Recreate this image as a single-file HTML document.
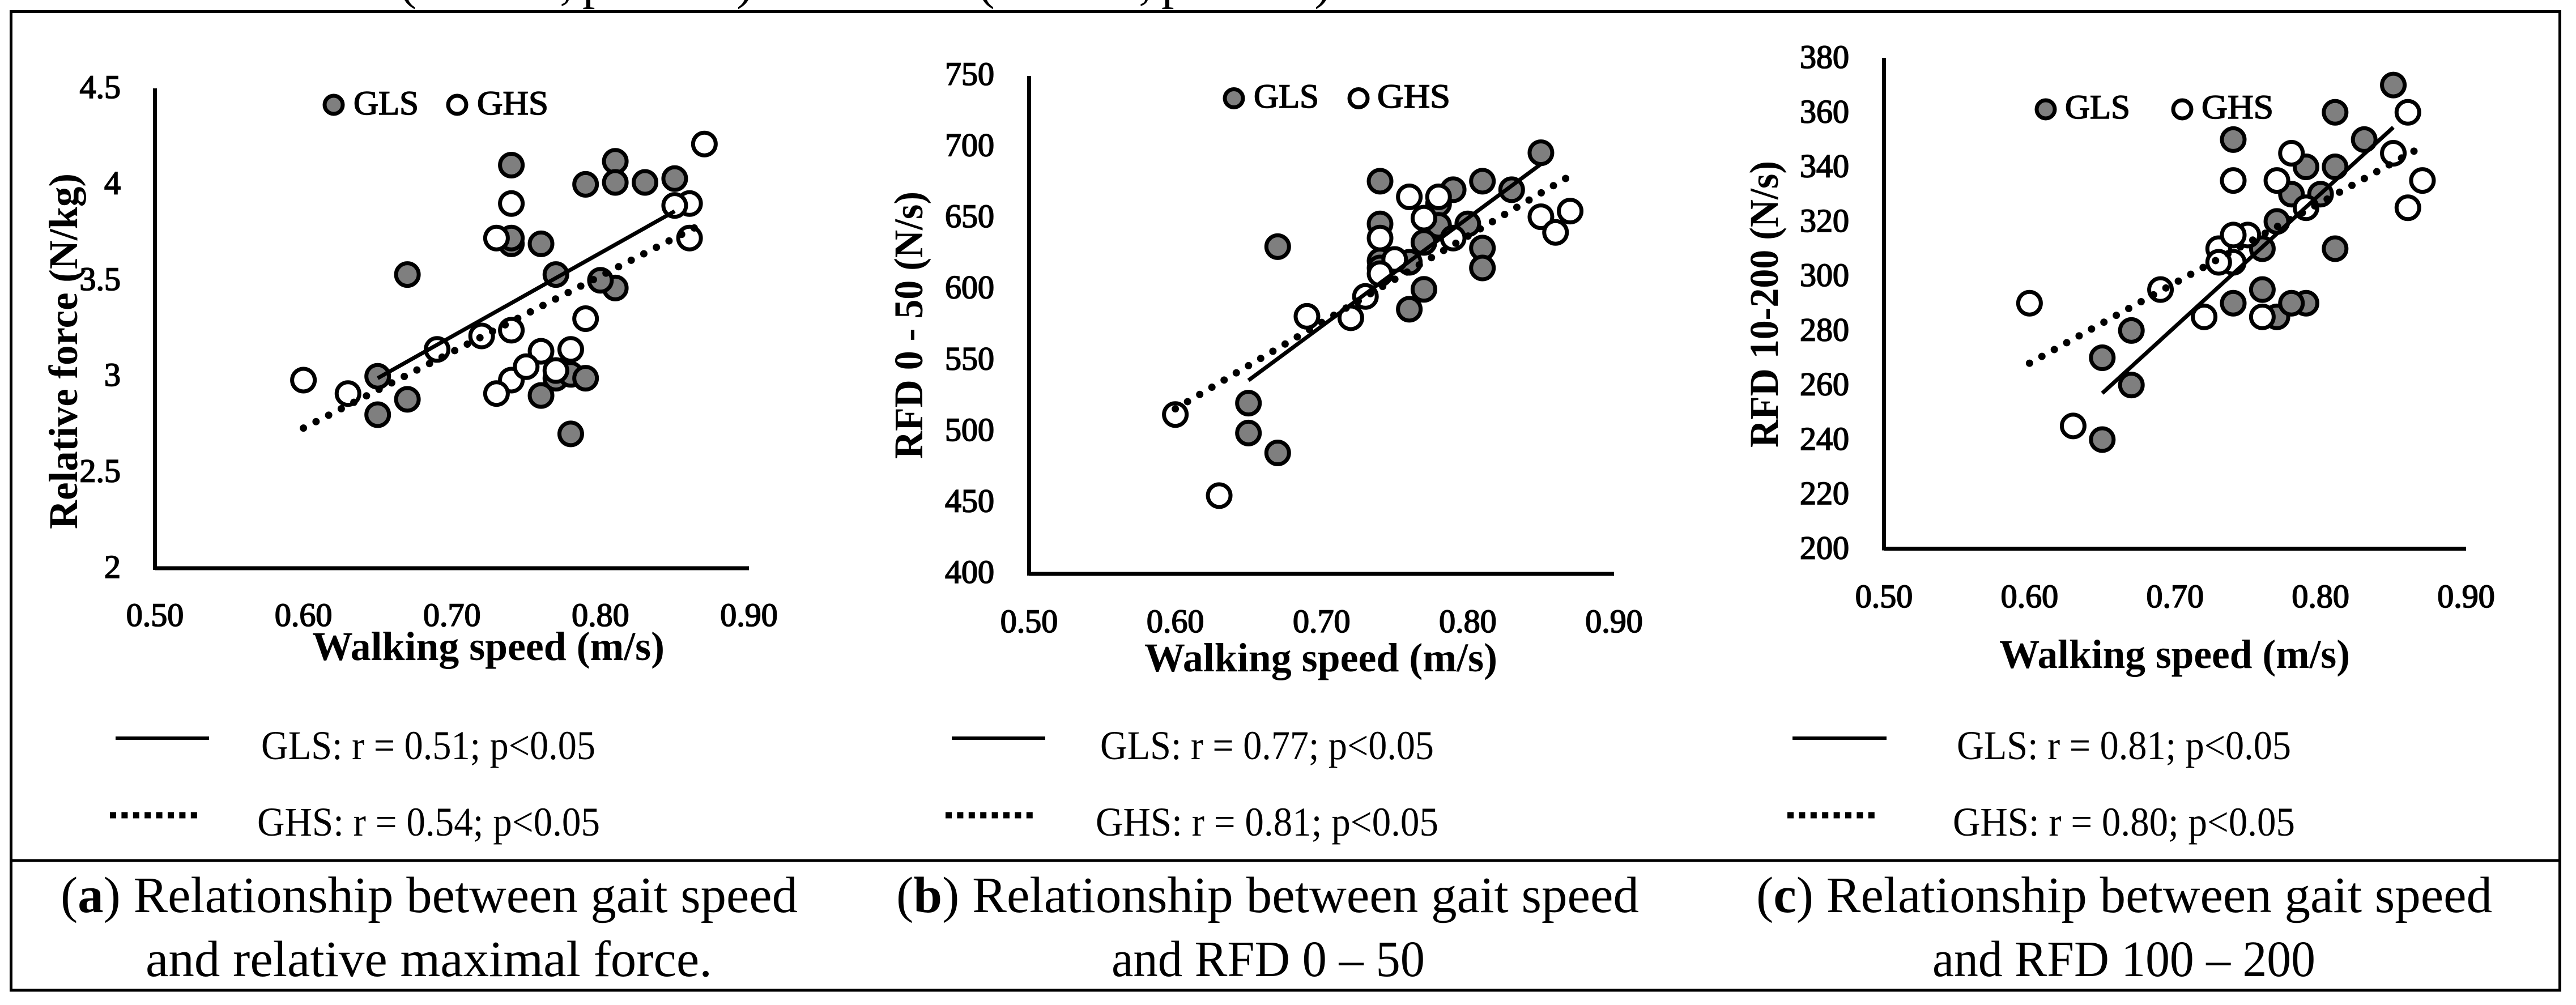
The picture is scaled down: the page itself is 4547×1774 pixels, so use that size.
<!DOCTYPE html>
<html lang="en">
<head>
<meta charset="utf-8">
<title>Gait speed relationships</title>
<style>
html,body{margin:0;padding:0;background:#fff}
svg{display:block}
text{font-family:"Liberation Serif","DejaVu Serif",serif;fill:#000}
.tick{font-size:58px;stroke:#000;stroke-width:1.8px}
.axt{font-size:72px;font-weight:bold}
.leg{font-size:60px;stroke:#000;stroke-width:1.6px}
.rt{font-size:72px}
.cap{font-size:90px}
</style>
</head>
<body>
<svg id="figure" xmlns="http://www.w3.org/2000/svg" width="4547" height="1774" viewBox="0 0 4547 1774">
  <rect width="4547" height="1774" fill="#fff"/>

  <g>
    <text class="cap" x="705" y="-3">(</text>
    <text class="cap" x="988" y="-3">,</text>
    <text class="cap" x="1028" y="-3">p</text>
    <text class="cap" x="1300" y="-3">)</text>
    <text class="cap" x="1726" y="-3">(</text>
    <text class="cap" x="2010" y="-3">,</text>
    <text class="cap" x="2050" y="-3">p</text>
    <text class="cap" x="2320" y="-3">)</text>
  </g>

  <g fill="none" stroke="#000" stroke-width="5">
    <rect x="19.5" y="20.5" width="4499" height="1727.5"/>
    <line x1="19" y1="1519" x2="4519" y2="1519"/>
  </g>

  <g id="panel-a">
    <text class="axt" transform="translate(136,934) rotate(-90)" textLength="628" lengthAdjust="spacingAndGlyphs">Relative force (N/kg)</text>
    <text class="axt" x="551" y="1165" textLength="622" lengthAdjust="spacingAndGlyphs">Walking speed (m/s)</text>
    <text class="leg" x="624" y="202" textLength="115" lengthAdjust="spacingAndGlyphs">GLS</text>
    <text class="leg" x="842" y="202" textLength="126" lengthAdjust="spacingAndGlyphs">GHS</text>
    <line x1="204" x2="369" y1="1303" y2="1303" stroke="#000" stroke-width="6"/>
    <line x1="194" x2="352" y1="1439" y2="1439" stroke="#000" stroke-width="11" stroke-dasharray="11 9.4"/>
    <text class="rt" x="461" y="1340" textLength="590" lengthAdjust="spacingAndGlyphs">GLS: r = 0.51; p&lt;0.05</text>
    <text class="rt" x="454" y="1475" textLength="605" lengthAdjust="spacingAndGlyphs">GHS: r = 0.54; p&lt;0.05</text>
    <text class="cap" x="107" y="1610" textLength="1301" lengthAdjust="spacingAndGlyphs">(<tspan font-weight="bold">a</tspan>) Relationship between gait speed</text>
    <text class="cap" x="257" y="1723" textLength="1000" lengthAdjust="spacingAndGlyphs">and relative maximal force.</text>
  </g>

  <g id="panel-b">
    <text class="axt" transform="translate(1628,810) rotate(-90)" textLength="472" lengthAdjust="spacingAndGlyphs">RFD 0 - 50 (N/s)</text>
    <text class="axt" x="2020" y="1185" textLength="623" lengthAdjust="spacingAndGlyphs">Walking speed (m/s)</text>
    <text class="leg" x="2213" y="190" textLength="115" lengthAdjust="spacingAndGlyphs">GLS</text>
    <text class="leg" x="2431" y="190" textLength="129" lengthAdjust="spacingAndGlyphs">GHS</text>
    <line x1="1680" x2="1845" y1="1303" y2="1303" stroke="#000" stroke-width="6"/>
    <line x1="1669" x2="1828" y1="1439" y2="1439" stroke="#000" stroke-width="11" stroke-dasharray="11 9.4"/>
    <text class="rt" x="1942" y="1340" textLength="589" lengthAdjust="spacingAndGlyphs">GLS: r = 0.77; p&lt;0.05</text>
    <text class="rt" x="1934" y="1475" textLength="605" lengthAdjust="spacingAndGlyphs">GHS: r = 0.81; p&lt;0.05</text>
    <text class="cap" x="1582" y="1610" textLength="1311" lengthAdjust="spacingAndGlyphs">(<tspan font-weight="bold">b</tspan>) Relationship between gait speed</text>
    <text class="cap" x="1962" y="1723" textLength="553" lengthAdjust="spacingAndGlyphs">and RFD 0 – 50</text>
  </g>

  <g id="panel-c">
    <text class="axt" transform="translate(3138,790) rotate(-90)" textLength="506" lengthAdjust="spacingAndGlyphs">RFD 10-200 (N/s)</text>
    <text class="axt" x="3529" y="1179" textLength="619" lengthAdjust="spacingAndGlyphs">Walking speed (m/s)</text>
    <text class="leg" x="3645" y="209" textLength="115" lengthAdjust="spacingAndGlyphs">GLS</text>
    <text class="leg" x="3886" y="209" textLength="127" lengthAdjust="spacingAndGlyphs">GHS</text>
    <line x1="3164" x2="3330" y1="1303" y2="1303" stroke="#000" stroke-width="6"/>
    <line x1="3155" x2="3312" y1="1439" y2="1439" stroke="#000" stroke-width="11" stroke-dasharray="11 9.4"/>
    <text class="rt" x="3454" y="1340" textLength="590" lengthAdjust="spacingAndGlyphs">GLS: r = 0.81; p&lt;0.05</text>
    <text class="rt" x="3447" y="1475" textLength="604" lengthAdjust="spacingAndGlyphs">GHS: r = 0.80; p&lt;0.05</text>
    <text class="cap" x="3100" y="1610" textLength="1299" lengthAdjust="spacingAndGlyphs">(<tspan font-weight="bold">c</tspan>) Relationship between gait speed</text>
    <text class="cap" x="3411" y="1723" textLength="676" lengthAdjust="spacingAndGlyphs">and RFD 100 – 200</text>
  </g>
</svg>

<script>
// Shared x axis
const speedTicks = ['0.50', '0.60', '0.70', '0.80', '0.90'];

// Panel a: relative force
const aYTicks = ['2', '2.5', '3', '3.5', '4', '4.5'];
const aGlsSpeed = [0.74, 0.81, 0.81, 0.79, 0.83, 0.85, 0.74, 0.74, 0.76, 0.67, 0.77, 0.81, 0.80, 0.65, 0.67, 0.65, 0.76, 0.77, 0.78, 0.79, 0.78];
const aGlsValue = [4.10, 4.12, 4.01, 4.00, 4.01, 4.03, 3.69, 3.72, 3.69, 3.53, 3.53, 3.46, 3.50, 3.00, 2.88, 2.80, 2.90, 2.99, 3.01, 2.99, 2.70];
const aGhsSpeed = [0.87, 0.74, 0.86, 0.85, 0.73, 0.86, 0.79, 0.74, 0.72, 0.69, 0.78, 0.76, 0.74, 0.75, 0.77, 0.73, 0.63, 0.60];
const aGhsValue = [4.21, 3.90, 3.90, 3.89, 3.72, 3.72, 3.30, 3.24, 3.21, 3.14, 3.14, 3.13, 2.98, 3.05, 3.03, 2.91, 2.91, 2.98];
const aGlsTrendSpeed = [0.65, 0.85];
const aGlsTrendValue = [2.99, 3.86];
const aGhsTrendSpeed = [0.60, 0.865];
const aGhsTrendValue = [2.73, 3.78];

// Panel b: RFD 0-50
const bYTicks = ['400', '450', '500', '550', '600', '650', '700', '750'];
const bGlsSpeed = [0.85, 0.74, 0.81, 0.79, 0.83, 0.78, 0.78, 0.80, 0.77, 0.74, 0.74, 0.74, 0.81, 0.81, 0.76, 0.67, 0.77, 0.76, 0.65, 0.65, 0.67];
const bGlsValue = [696, 676, 676, 670, 670, 660, 645, 646, 633, 646, 620, 615, 629, 615, 619, 630, 600, 586, 520, 499, 485];
const bGhsSpeed = [0.76, 0.78, 0.77, 0.74, 0.79, 0.75, 0.74, 0.73, 0.72, 0.69, 0.85, 0.86, 0.87, 0.60, 0.63];
const bGhsValue = [665, 665, 650, 636, 636, 621, 611, 595, 580, 581, 651, 640, 655, 512, 455];
const bGlsTrendSpeed = [0.65, 0.85];
const bGlsTrendValue = [536, 688];
const bGhsTrendSpeed = [0.60, 0.867];
const bGhsTrendValue = [516, 678];

// Panel c: RFD 10-200
const cYTicks = ['200', '220', '240', '260', '280', '300', '320', '340', '360', '380'];
const cGlsSpeed = [0.85, 0.81, 0.74, 0.83, 0.79, 0.81, 0.78, 0.80, 0.77, 0.76, 0.81, 0.76, 0.74, 0.79, 0.77, 0.78, 0.67, 0.65, 0.67, 0.65];
const cGlsValue = [370, 360, 350, 350, 340, 340, 330, 330, 320, 310, 310, 295, 290, 290, 285, 290, 280, 270, 260, 240];
const cGhsSpeed = [0.86, 0.85, 0.78, 0.74, 0.77, 0.87, 0.86, 0.79, 0.73, 0.75, 0.74, 0.74, 0.73, 0.69, 0.72, 0.76, 0.60, 0.63];
const cGhsValue = [360, 345, 345, 335, 335, 335, 325, 325, 310, 315, 315, 305, 305, 295, 285, 285, 290, 245];
const cGlsTrendSpeed = [0.65, 0.85];
const cGlsTrendValue = [257, 354.5];
const cGhsTrendSpeed = [0.60, 0.865];
const cGhsTrendValue = [268, 346];

const SVG_NS = 'http://www.w3.org/2000/svg';

function make(parent, tag, attrs, text) {
  const node = document.createElementNS(SVG_NS, tag);
  for (const key in attrs) node.setAttribute(key, attrs[key]);
  if (text !== undefined) node.textContent = text;
  parent.appendChild(node);
  return node;
}

function drawPanel(opts) {
  const root = document.getElementById('panel-' + opts.id);
  const xMin = parseFloat(speedTicks[0]);
  const xMax = parseFloat(speedTicks[speedTicks.length - 1]);
  const yMin = parseFloat(opts.yTicks[0]);
  const yMax = parseFloat(opts.yTicks[opts.yTicks.length - 1]);
  const xScale = v => opts.left + (v - xMin) / (xMax - xMin) * (opts.right - opts.left);
  const yScale = v => opts.bottom - (v - yMin) / (yMax - yMin) * (opts.bottom - opts.top);

  const yAxis = make(root, 'line', {x1: opts.left, x2: opts.left, y1: opts.top, y2: opts.bottom + 3, stroke: '#000', 'stroke-width': 7});
  
  
  const xAxis = make(root, 'line', {x1: opts.left, x2: opts.right, y1: opts.bottom, y2: opts.bottom, stroke: '#000', 'stroke-width': 7});
  
  

  speedTicks.forEach(label => {
    const t = make(root, 'text', {class: 'tick', x: xScale(parseFloat(label)), y: opts.xLabelY, 'text-anchor': 'middle'}, label);
    
    
  });
  opts.yTicks.forEach(label => {
    const t = make(root, 'text', {class: 'tick', x: opts.yLabelX, y: yScale(parseFloat(label)) + opts.yLabelDy, 'text-anchor': 'end'}, label);
    
    
  });

  opts.glsSpeed.forEach((s, i) => {
    const p = make(root, 'circle', {cx: xScale(s), cy: yScale(opts.glsValue[i]), r: 20, fill: '#7f7f7f', stroke: '#000', 'stroke-width': 7});
    
    
  });
  opts.ghsSpeed.forEach((s, i) => {
    const p = make(root, 'circle', {cx: xScale(s), cy: yScale(opts.ghsValue[i]), r: 20, fill: '#fff', stroke: '#000', 'stroke-width': 7});
    
    
  });

  const solid = make(root, 'line', {
    x1: xScale(opts.glsTrendSpeed[0]), y1: yScale(opts.glsTrendValue[0]),
    x2: xScale(opts.glsTrendSpeed[1]), y2: yScale(opts.glsTrendValue[1]),
    stroke: '#000', 'stroke-width': 7
  });
  
  
  const dotted = make(root, 'line', {
    x1: xScale(opts.ghsTrendSpeed[0]), y1: yScale(opts.ghsTrendValue[0]),
    x2: xScale(opts.ghsTrendSpeed[1]), y2: yScale(opts.ghsTrendValue[1]),
    stroke: '#000', 'stroke-width': 13, 'stroke-linecap': 'round', 'stroke-dasharray': '0 25'
  });
  
  

  const lg = make(root, 'circle', {cx: opts.legendGlsX, cy: opts.legendY, r: 16, fill: '#7f7f7f', stroke: '#000', 'stroke-width': 7});
  
  
  const lh = make(root, 'circle', {cx: opts.legendGhsX, cy: opts.legendY, r: 16, fill: '#fff', stroke: '#000', 'stroke-width': 7});
  
  
}

drawPanel({
  id: 'a', left: 273.5, right: 1322, top: 156, bottom: 1003,
  xLabelY: 1105, yLabelX: 213, yLabelDy: 17,
  legendGlsX: 589, legendGhsX: 807, legendY: 185,
  yTicks: aYTicks, glsSpeed: aGlsSpeed, glsValue: aGlsValue, ghsSpeed: aGhsSpeed, ghsValue: aGhsValue,
  glsTrendSpeed: aGlsTrendSpeed, glsTrendValue: aGlsTrendValue, ghsTrendSpeed: aGhsTrendSpeed, ghsTrendValue: aGhsTrendValue
});
drawPanel({
  id: 'b', left: 1816.5, right: 2849, top: 134, bottom: 1013,
  xLabelY: 1116, yLabelX: 1755, yLabelDy: 16,
  legendGlsX: 2178, legendGhsX: 2398, legendY: 173.5,
  yTicks: bYTicks, glsSpeed: bGlsSpeed, glsValue: bGlsValue, ghsSpeed: bGhsSpeed, ghsValue: bGhsValue,
  glsTrendSpeed: bGlsTrendSpeed, glsTrendValue: bGlsTrendValue, ghsTrendSpeed: bGhsTrendSpeed, ghsTrendValue: bGhsTrendValue
});
drawPanel({
  id: 'c', left: 3325.5, right: 4353, top: 102, bottom: 968.5,
  xLabelY: 1072, yLabelX: 3264, yLabelDy: 18,
  legendGlsX: 3611, legendGhsX: 3852, legendY: 193,
  yTicks: cYTicks, glsSpeed: cGlsSpeed, glsValue: cGlsValue, ghsSpeed: cGhsSpeed, ghsValue: cGhsValue,
  glsTrendSpeed: cGlsTrendSpeed, glsTrendValue: cGlsTrendValue, ghsTrendSpeed: cGhsTrendSpeed, ghsTrendValue: cGhsTrendValue
});
</script>
</body>
</html>
